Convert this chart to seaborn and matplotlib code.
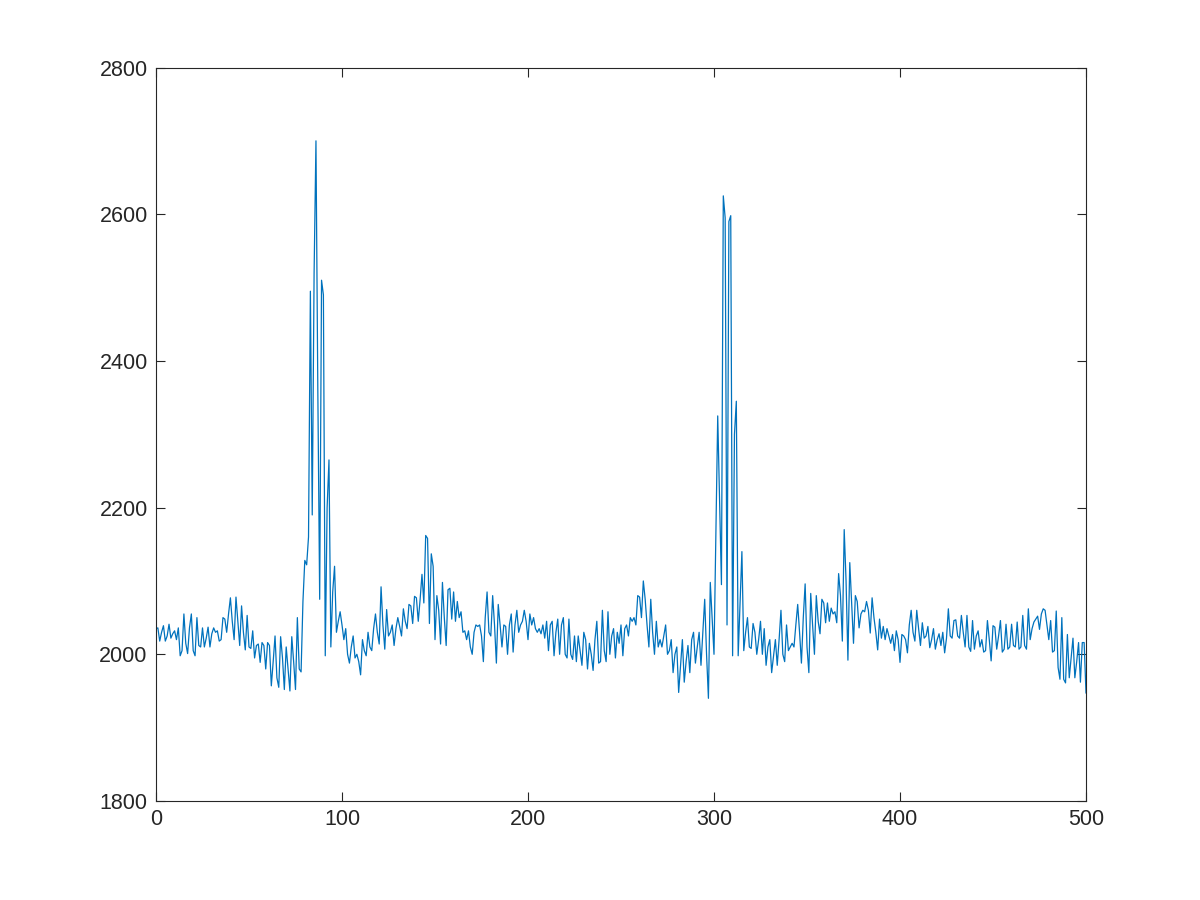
import numpy as np
import pandas as pd
import seaborn as sns
import matplotlib
matplotlib.use("Agg")
import matplotlib.pyplot as plt

# signal samples, 0..500
signal = [
    2035, 2036, 2018, 2030, 2039, 2018, 2025, 2041, 2022, 2028,
    2032, 2020, 2036, 1998, 2005, 2055, 2015, 2001, 2036, 2055,
    2005, 1998, 2050, 2012, 2010, 2036, 2010, 2022, 2037, 2010,
    2028, 2036, 2030, 2032, 2018, 2020, 2050, 2048, 2030, 2055,
    2077, 2045, 2020, 2078, 2045, 2012, 2066, 2030, 2006, 2053,
    2010, 2008, 2032, 1995, 2012, 2014, 1989, 2016, 2012, 1980,
    2016, 2012, 1957, 1990, 2025, 1968, 1955, 2024, 1995, 1952,
    2010, 1980, 1950, 2024, 1990, 1952, 2050, 1980, 1976, 2072,
    2128, 2122, 2160, 2495, 2190, 2520, 2700, 2360, 2075, 2510,
    2490, 1998, 2200, 2265, 2010, 2085, 2120, 2030, 2045, 2058,
    2040, 2020, 2035, 2000, 1988, 2010, 2025, 1995, 2000, 1990,
    1972, 2020, 2005, 1998, 2030, 2010, 2005, 2035, 2055, 2030,
    2014, 2092, 2040, 2007, 2061, 2025, 2030, 2040, 2012, 2035,
    2050, 2038, 2025, 2062, 2045, 2035, 2068, 2066, 2042, 2079,
    2077, 2045, 2075, 2109, 2070, 2162, 2158, 2042, 2137, 2120,
    2020, 2080, 2060, 2014, 2098, 2050, 2012, 2088, 2090, 2048,
    2085, 2045, 2072, 2050, 2058, 2030, 2032, 2020, 2032, 2010,
    2000, 2030, 2040, 2038, 2040, 2025, 1990, 2050, 2085, 2030,
    2025, 2080, 2040, 1988, 2068, 2040, 2010, 2040, 2038, 2000,
    2040, 2055, 2003, 2040, 2060, 2030, 2040, 2045, 2060, 2045,
    2020, 2055, 2040, 2050, 2035, 2030, 2035, 2028, 2040, 2022,
    2045, 2005, 2040, 2045, 1998, 2030, 2048, 2000, 2040, 2050,
    2000, 1995, 2048, 2000, 1993, 2025, 1990, 2025, 2005, 1985,
    2030, 2020, 1980, 2015, 2000, 1978, 2020, 2045, 1988, 1990,
    2060, 2005, 1990, 2058, 2000, 2025, 2035, 1995, 2030, 2015,
    2040, 1998, 2035, 2040, 2025, 2050, 2045, 2050, 2040, 2080,
    2078, 2050, 2100, 2075, 2040, 2010, 2075, 2030, 2000, 2045,
    2010, 2020, 2010, 2025, 2040, 2000, 2005, 2020, 1975, 2000,
    2010, 1948, 1985, 2020, 1962, 1990, 2012, 1975, 2020, 2030,
    1988, 2010, 2030, 1985, 2030, 2075, 2000, 1940, 2098, 2050,
    2000, 2160, 2325, 2210, 2095, 2625, 2595, 2040, 2590, 2598,
    1998, 2300, 2345, 1998, 2070, 2140, 2005, 2030, 2050, 2010,
    2008, 2042, 2030, 2000, 2020, 2045, 2000, 2035, 1985, 2010,
    2020, 1975, 1998, 2020, 1985, 2020, 2060, 2000, 1990, 2040,
    2005, 2010, 2015, 2010, 2040, 2068, 2030, 1988, 2050, 2096,
    2010, 1975, 2083, 2040, 2000, 2080, 2045, 2028, 2075, 2070,
    2043, 2070, 2045, 2063, 2055, 2058, 2043, 2110, 2080, 2018,
    2170, 2100, 1992, 2125, 2070, 2015, 2080, 2072, 2036, 2055,
    2060, 2058, 2072, 2060, 2029, 2077, 2050, 2030, 2006, 2048,
    2022, 2038, 2020, 2035, 2025, 2015, 2027, 2005, 2032, 2020,
    1989, 2027, 2025, 2020, 2002, 2040, 2060, 2030, 2018, 2060,
    2035, 2012, 2043, 2022, 2025, 2038, 2009, 2020, 2035, 2007,
    2020, 2028, 2012, 2030, 2002, 2022, 2062, 2025, 2022, 2046,
    2047, 2025, 2022, 2053, 2030, 2010, 2053, 2010, 2004, 2046,
    2007, 2025, 2032, 2010, 2020, 2003, 2005, 2046, 2020, 1991,
    2039, 2037, 2007, 2025, 2046, 2003, 2007, 2041, 2007, 2010,
    2041, 2012, 2010, 2044, 2007, 2010, 2053, 2012, 2007, 2062,
    2020, 2035, 2044, 2048, 2052, 2034, 2055, 2062, 2060, 2040,
    2020, 2046, 2003, 2005, 2059, 1982, 1966, 2050, 1966, 1961,
    2027, 1968, 1995, 2022, 1968, 1990, 2016, 1962, 2016, 2016, 1947,
]
sample = list(range(len(signal)))
xticks = [0, 100, 200, 300, 400, 500]
yticks = [1800, 2000, 2200, 2400, 2600, 2800]

d = pd.DataFrame({"sample": sample, "value": signal})

sns.set_style("white")
plt.rcParams["font.family"] = ["Liberation Sans", "DejaVu Sans"]

fig = plt.figure(figsize=(12, 9), dpi=100)
ax = fig.add_axes([0.13, 0.11, 0.775, 0.815])
sns.lineplot(data=d, x="sample", y="value", color="#0072BD",
             linewidth=0.9, ax=ax)

ax.set_xlim(0, 500)
ax.set_ylim(1800, 2800)
ax.set_xticks(xticks)
ax.set_yticks(yticks)
ax.set_xlabel("")
ax.set_ylabel("")
for s in ax.spines.values():
    s.set_visible(True)
    s.set_color("#262626")
    s.set_linewidth(0.8)
ax.tick_params(direction="in", length=6.5, width=0.8, color="#262626",
               labelsize=15.5, labelcolor="#262626", top=True, right=True,
               bottom=True, left=True, pad=6)

fig.savefig("out.png", dpi=100)
